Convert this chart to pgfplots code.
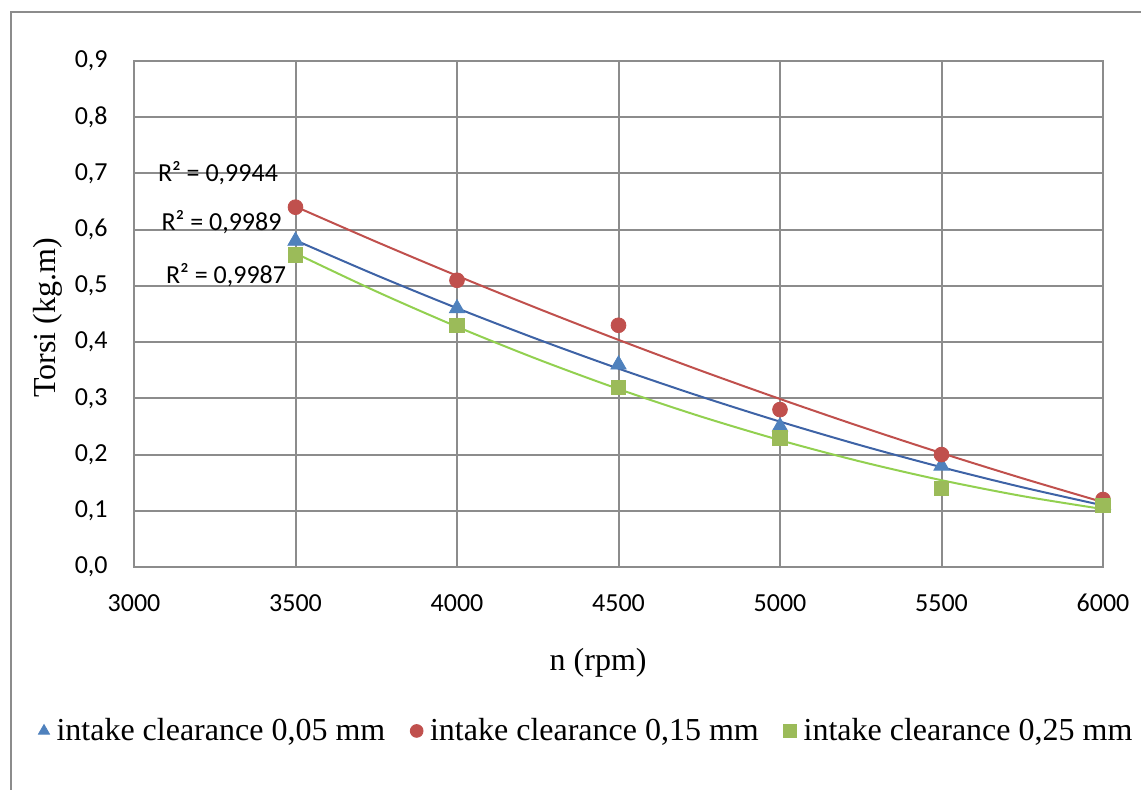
\documentclass[border=0pt]{standalone}
\usepackage{fontspec}
\setmainfont{Liberation Serif}
\newfontfamily\calibri{Carlito}
\usepackage{pgfplots}
\pgfplotsset{compat=1.18}

\definecolor{mblue}{HTML}{4F81BD}
\definecolor{mred}{HTML}{C0504D}
\definecolor{mgreen}{HTML}{9BBB59}
\definecolor{lblue}{HTML}{3E63A6}
\definecolor{lred}{HTML}{C0504D}
\definecolor{lgreen}{HTML}{92D050}
\definecolor{gridgray}{HTML}{8C8C8C}

\begin{document}
\begin{tikzpicture}
\useasboundingbox (0,0) rectangle (570.5pt,394.5pt);
\begin{scope}
  \clip (0,0) rectangle (570.5pt,394.5pt);
  \draw[gridgray, line width=0.8pt] (5.5pt,-5pt) -- (5.5pt,388.5pt) -- (580pt,388.5pt);
\end{scope}
\begin{axis}[
  at={(67pt,111pt)}, anchor=south west,
  scale only axis, width=484.5pt, height=253pt,
  xmin=3000, xmax=6000, ymin=0, ymax=0.9,
  xtick={3000,3500,4000,4500,5000,5500,6000},
  ytick={0,0.1,0.2,0.3,0.4,0.5,0.6,0.7,0.8,0.9},
  grid=major,
  major grid style={gridgray, line width=1pt},
  axis line style={gridgray, line width=1pt},
  major tick length=0pt,
  /pgf/number format/assume math mode=true,
  tick label style={font=\calibri\fontsize{13}{15}\selectfont},
  xticklabel style={/pgf/number format/1000 sep={}, inner sep=0pt, anchor=north, yshift=-13.5pt},
  yticklabel style={/pgf/number format/.cd, fixed, fixed zerofill, precision=1, use comma,
    /tikz/.cd, inner sep=0pt, anchor=east, xshift=-13pt},
  xlabel={n (rpm)},
  ylabel={Torsi (kg.m)},
  label style={font=\fontsize{16}{19}\selectfont},
  xlabel style={at={(axis description cs:0.479,-0.2055)}, anchor=base},
  ylabel style={at={(axis description cs:-0.0815,0.492)}, anchor=base},
  legend columns=3,
  legend image code/.code={\draw[#1, mark size=3.2pt] plot coordinates {(0pt,0pt)};},
  legend style={draw=none, fill=none, inner sep=0pt,
    font=\fontsize{16}{19}\selectfont,
    at={(axis description cs:-0.099,-0.324)}, anchor=west,
    nodes={inner sep=0pt},
    /tikz/every odd column/.append style={column sep=3.5pt},
    /tikz/every even column/.append style={column sep=12.5pt}},
  clip=false,
]
% measured points
\addplot[only marks, mark=triangle*, mark size=4.4pt, mark options={fill=mblue, draw=mblue}]
  coordinates {(3500,0.58)(4000,0.46)(4500,0.36)(5000,0.25)(5500,0.18)(6000,0.11)};
\addlegendentry{intake clearance 0,05 mm}
\addplot[only marks, mark=*, mark size=3.7pt, mark options={fill=mred, draw=mred}]
  coordinates {(3500,0.64)(4000,0.51)(4500,0.43)(5000,0.28)(5500,0.20)(6000,0.12)};
\addlegendentry{intake clearance 0,15 mm}
\addplot[only marks, mark=square*, mark size=3.6pt, mark options={fill=mgreen, draw=mgreen}]
  coordinates {(3500,0.555)(4000,0.43)(4500,0.32)(5000,0.23)(5500,0.14)(6000,0.11)};
\addlegendentry{intake clearance 0,25 mm}
% trend lines (order 2)
\addplot[lblue, line width=1pt, smooth, forget plot] coordinates {
  (3500,0.5811)(3750,0.5191)(4000,0.4604)(4250,0.4050)(4500,0.3529)(4750,0.3041)
  (5000,0.2586)(5250,0.2164)(5500,0.1775)(5750,0.1419)(6000,0.1096)};
\addplot[lred, line width=1pt, smooth, forget plot] coordinates {
  (3500,0.6411)(3750,0.5785)(4000,0.5181)(4250,0.4599)(4500,0.4040)(4750,0.3503)
  (5000,0.2989)(5250,0.2496)(5500,0.2026)(5750,0.1579)(6000,0.1154)};
\addplot[lgreen, line width=1pt, smooth, forget plot] coordinates {
  (3500,0.5580)(3750,0.4902)(4000,0.4274)(4250,0.3695)(4500,0.3166)(4750,0.2686)
  (5000,0.2256)(5250,0.1875)(5500,0.1544)(5750,0.1262)(6000,0.1030)};
% R^2 labels
\node[font=\calibri\fontsize{13}{15}\selectfont] at (axis cs:3260,0.701) {R² = 0,9944};
\node[font=\calibri\fontsize{13}{15}\selectfont] at (axis cs:3271,0.614) {R² = 0,9989};
\node[font=\calibri\fontsize{13}{15}\selectfont] at (axis cs:3285,0.519) {R² = 0,9987};
\end{axis}
\end{tikzpicture}
\end{document}
